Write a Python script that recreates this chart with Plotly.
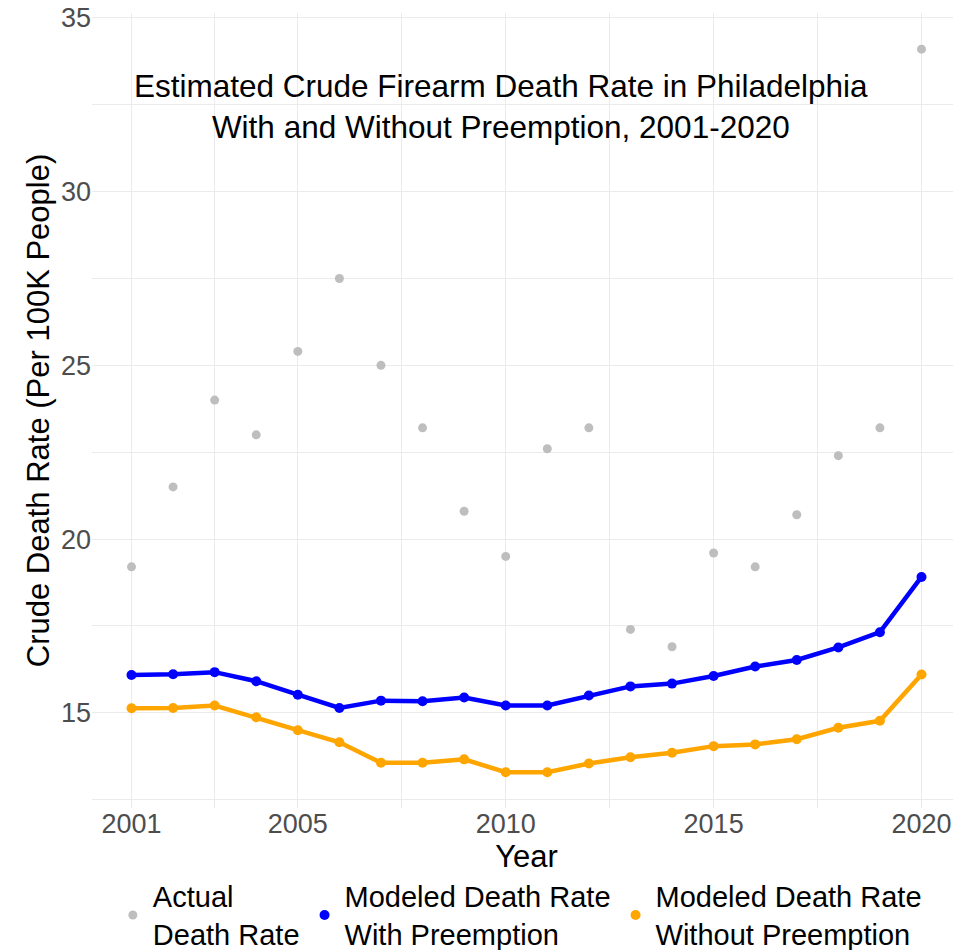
import plotly.graph_objects as go

# Data
years = list(range(2001, 2021))

actual_rate = [19.2, 21.5, 24.0, 23.0, 25.4, 27.5, 25.0, 23.2, 20.8, 19.5,
               22.6, 23.2, 17.4, 16.9, 19.6, 19.2, 20.7, 22.4, 23.2, 34.1]

with_preemption = [16.09, 16.11, 16.17, 15.91, 15.52, 15.14, 15.35, 15.33, 15.44, 15.21,
                   15.21, 15.50, 15.76, 15.84, 16.06, 16.33, 16.52, 16.88, 17.32, 18.91]

without_preemption = [15.13, 15.14, 15.21, 14.87, 14.50, 14.15, 13.56, 13.56, 13.66, 13.29,
                      13.29, 13.54, 13.72, 13.85, 14.04, 14.09, 14.24, 14.57, 14.77, 16.10]

x_ticks = [2001, 2005, 2010, 2015, 2020]
x_minor = [2003, 2007.5, 2012.5, 2017.5]
y_ticks = [15, 20, 25, 30, 35]
y_minor = [12.5, 17.5, 22.5, 27.5, 32.5]

FONT = "Liberation Sans, Arial, sans-serif"
GRID = "#ebebeb"

series = [
    ("Actual<br>Death Rate", actual_rate, "#bebebe", False),
    ("Modeled Death Rate<br>With Preemption", with_preemption, "#0000ff", True),
    ("Modeled Death Rate<br>Without Preemption", without_preemption, "#ffa500", True),
]

fig = go.Figure()

# lines first (no legend entry), then points which carry the legend dot
for name, vals, color, has_line in series:
    if has_line:
        fig.add_trace(go.Scatter(
            x=years, y=vals, mode="lines", showlegend=False,
            line=dict(color=color, width=4.5),
            hoverinfo="skip",
        ))

for name, vals, color, has_line in series:
    fig.add_trace(go.Scatter(
        x=years, y=vals, mode="markers", name=name,
        marker=dict(color=color, size=10 if has_line else 9),
    ))

fig.add_annotation(
    text="Estimated Crude Firearm Death Rate in Philadelphia<br>With and Without Preemption, 2001-2020",
    xref="paper", yref="paper",
    x=0.4707, y=0.8824,
    xanchor="center", yanchor="middle",
    showarrow=False,
    font=dict(family=FONT, size=31.5, color="black"),
)

# page body adds an 8px offset, so the figure is 8px smaller than the window
fig.update_layout(
    width=953, height=942,
    margin=dict(l=84, r=0, t=5, b=142, autoexpand=False),
    paper_bgcolor="white",
    plot_bgcolor="white",
    font=dict(family=FONT, color="black"),
    showlegend=True,
    legend=dict(
        orientation="h",
        x=0.024, xanchor="left",
        y=-0.079, yanchor="top",
        font=dict(family=FONT, size=29, color="black"),
        itemwidth=30,
        tracegroupgap=0,
        bgcolor="rgba(0,0,0,0)",
    ),
    xaxis=dict(
        range=[2000.05, 2020.95],
        automargin=False,
        tickvals=x_ticks,
        ticktext=[str(v) for v in x_ticks],
        showgrid=True, gridcolor=GRID, gridwidth=1.2,
        minor=dict(tickvals=x_minor, showgrid=True, gridcolor=GRID, gridwidth=0.8),
        zeroline=False, showline=False, ticks="",
        ticklabelstandoff=-3,
        ticklabeloverflow="allow",
        tickfont=dict(family=FONT, size=27, color="#4d4d4d"),
        title=dict(text="Year", font=dict(family=FONT, size=31, color="black"), standoff=0),
    ),
    yaxis=dict(
        range=[12.26, 35.14],
        automargin=False,
        tickvals=y_ticks,
        ticktext=[str(v) for v in y_ticks],
        showgrid=True, gridcolor=GRID, gridwidth=1.2,
        minor=dict(tickvals=y_minor, showgrid=True, gridcolor=GRID, gridwidth=0.8),
        zeroline=False, showline=False, ticks="",
        ticklabeloverflow="allow",
        tickfont=dict(family=FONT, size=27, color="#4d4d4d"),
        title=dict(text="Crude Death Rate (Per 100K People)",
                   font=dict(family=FONT, size=31, color="black"), standoff=2),
    ),
)

fig.write_html("out.html")
